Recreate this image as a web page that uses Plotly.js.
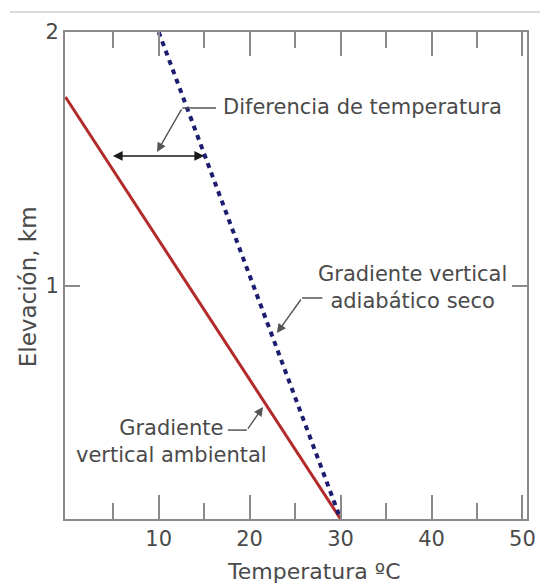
<!DOCTYPE html>
<html>
<head>
<meta charset="utf-8">
<script src="https://cdn.plot.ly/plotly-3.0.1.min.js"></script>
<style>html,body{margin:0;padding:0;background:#fff;}#chart{width:540px;height:584px;}</style>
</head>
<body>
<div id="chart"></div>
<script>
// Environmental lapse rate (red, solid)
const ambientTemp = [-0.25, 30];
const ambientElev = [1.744, 0.083];
// Dry adiabatic lapse rate (navy, dashed)
const adiabaticTemp = [10, 30];
const adiabaticElev = [2.0, 0.083];
// Temperature difference arrow
const diffElev = 1.512;
const diffLeftTemp = 4.8;
const diffRightTemp = 15.0;

const xTickVals = [10, 20, 30, 40, 50];
const xTickText = ['10', '20', '30', '40', '50'];
const xMinorVals = [5, 15, 25, 35, 45];
const yTickVals = [1, 2];
const yTickText = ['1', '2'];

const labelDiff = 'Diferencia de temperatura';
const labelAdiab = 'Gradiente vertical<br>adiabático seco';
const labelAmb = 'Gradiente<br>vertical ambiental';
const xTitle = 'Temperatura ºC';
const yTitle = 'Elevación, km';

const FONT = 'DejaVu Sans, Verdana, sans-serif';
const TXT = '#4a4a4a';
const AX = '#8a8a8a';
const LEAD = '#555555';

const traces = [
  {x: ambientTemp, y: ambientElev, mode: 'lines', type: 'scatter',
   line: {color: '#b22a2a', width: 3}, hoverinfo: 'skip'},
  {x: adiabaticTemp, y: adiabaticElev, mode: 'lines', type: 'scatter',
   line: {color: '#1c1c70', width: 4, dash: '5px,5px'}, hoverinfo: 'skip'}
];

const arrowBase = {text: '', showarrow: true, xref: 'x', yref: 'y', axref: 'x', ayref: 'y',
  arrowhead: 2, arrowsize: 1.3, arrowwidth: 1.4, arrowcolor: '#222', standoff: 0, startstandoff: 0};

const layout = {
  width: 540, height: 584,
  margin: {l: 65, r: 13, t: 32, b: 65},
  paper_bgcolor: '#ffffff', plot_bgcolor: '#ffffff',
  showlegend: false,
  font: {family: FONT, color: TXT, size: 20},
  xaxis: {
    range: [-0.3, 50.5], showgrid: false, zeroline: false,
    showline: true, linecolor: AX, linewidth: 2, mirror: 'ticks',
    ticks: 'inside', ticklen: 24, tickwidth: 2, tickcolor: AX,
    tickvals: xTickVals, ticktext: xTickText,
    tickfont: {family: FONT, size: 21, color: TXT},
    minor: {tickvals: xMinorVals, ticks: 'inside', ticklen: 16, tickwidth: 2, tickcolor: AX, showgrid: false},
    fixedrange: true
  },
  yaxis: {
    range: [0.083, 2.0], showgrid: false, zeroline: false,
    showline: true, linecolor: AX, linewidth: 2, mirror: 'ticks',
    ticks: 'inside', ticklen: 15, tickwidth: 2, tickcolor: AX,
    tickvals: yTickVals, ticktext: yTickText,
    tickfont: {family: FONT, size: 21, color: TXT},
    fixedrange: true
  },
  shapes: [
    {type: 'line', xref: 'paper', yref: 'paper', x0: -0.119, x1: 1.03, y0: 1.041, y1: 1.041,
     line: {color: '#cfcfcf', width: 1.5}},
    {type: 'line', xref: 'x', yref: 'y', x0: 12.6, x1: 16.3, y0: 1.701, y1: 1.701, line: {color: LEAD, width: 1.5}},
    {type: 'line', xref: 'x', yref: 'y', x0: 25.76, x1: 28.0, y0: 0.953, y1: 0.953, line: {color: LEAD, width: 1.5}},
    {type: 'line', xref: 'x', yref: 'y', x0: 17.6, x1: 19.7, y0: 0.433, y1: 0.433, line: {color: LEAD, width: 1.5}}
  ],
  annotations: [
    {text: xTitle, x: 0.539, y: -0.107, xref: 'paper', yref: 'paper', xanchor: 'center', yanchor: 'middle',
     showarrow: false, font: {family: FONT, size: 22, color: TXT}},
    {text: yTitle, x: -0.080, y: 0.476, xref: 'paper', yref: 'paper', xanchor: 'center', yanchor: 'middle',
     textangle: -90, showarrow: false, font: {family: FONT, size: 23, color: TXT}},
    {text: labelDiff, x: 16.9, y: 1.705, xref: 'x', yref: 'y', xanchor: 'left', yanchor: 'middle',
     showarrow: false, font: {family: FONT, size: 21, color: TXT}},
    {text: labelAdiab, x: 37.9, y: 0.996, xref: 'x', yref: 'y', xanchor: 'center', yanchor: 'middle', align: 'center',
     showarrow: false, font: {family: FONT, size: 21, color: TXT}},
    {text: labelAmb, x: 11.4, y: 0.39, xref: 'x', yref: 'y', xanchor: 'center', yanchor: 'middle', align: 'center',
     showarrow: false, font: {family: FONT, size: 21, color: TXT}},
    Object.assign({}, arrowBase, {x: 9.82, y: 1.528, ax: 12.6, ay: 1.701, arrowcolor: LEAD}),
    Object.assign({}, arrowBase, {x: 23.0, y: 0.815, ax: 25.76, ay: 0.953, arrowcolor: LEAD}),
    Object.assign({}, arrowBase, {x: 21.48, y: 0.524, ax: 19.7, ay: 0.433, arrowcolor: LEAD}),
    Object.assign({}, arrowBase, {x: diffRightTemp, y: diffElev, ax: diffLeftTemp, ay: diffElev,
      arrowside: 'end+start', arrowcolor: '#1a1a1a', arrowwidth: 1.5})
  ]
};

Plotly.newPlot('chart', traces, layout, {staticPlot: true, displayModeBar: false});
</script>
</body>
</html>
